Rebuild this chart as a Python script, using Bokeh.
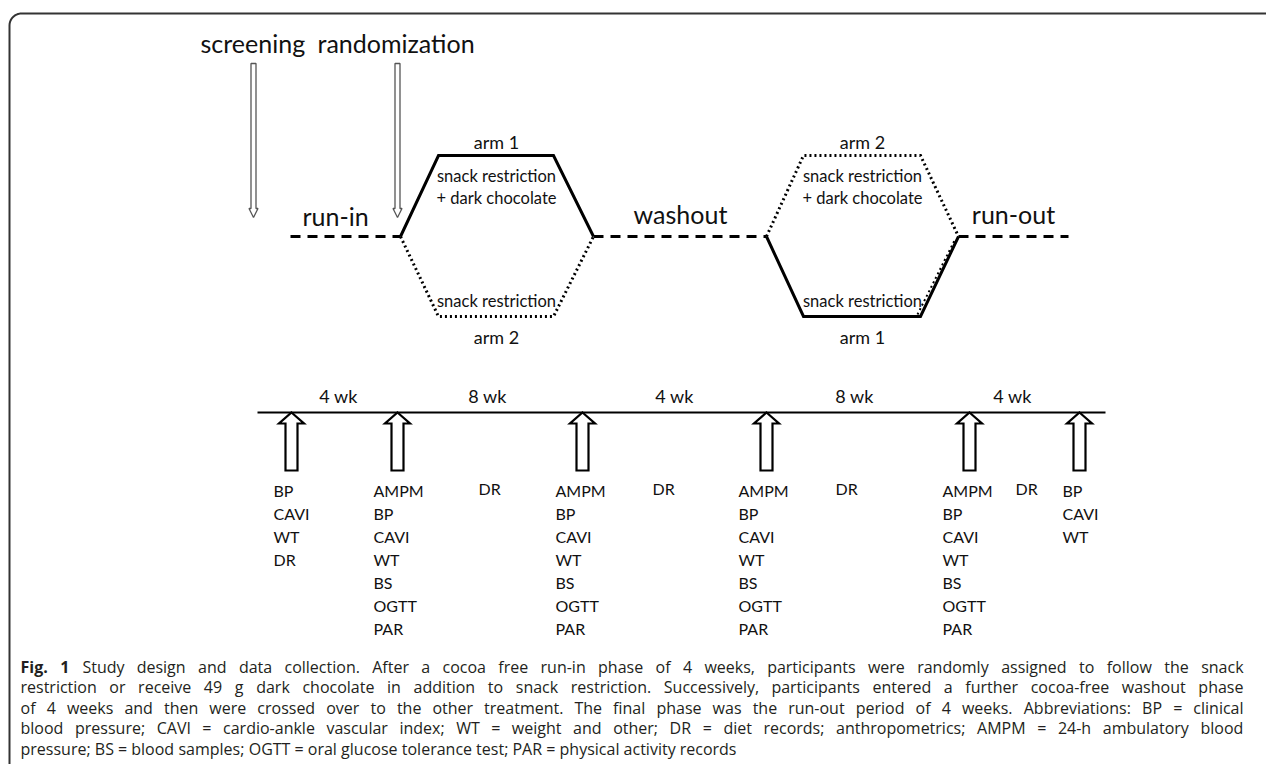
from bokeh.plotting import figure
from bokeh.models import Range1d
from bokeh.core.properties import value
from bokeh.embed import file_html
from bokeh.resources import INLINE
import numpy as np

# ---------------- data ----------------
top_labels = ["screening", "randomization"]
top_label_x = [200, 317]
top_arrow_x = [253, 397]

phases = ["run-in", "washout", "run-out"]
phase_x = [335, 680, 1013]
phase_dash_x0 = [290, 593, 958]
phase_dash_x1 = [400, 766, 1068]

arm_top_labels = ["arm 1", "arm 2"]
arm_bottom_labels = ["arm 2", "arm 1"]
arm_center_x = [496, 862]
hex_left = [400, 766]
hex_right = [593, 958]
hex_in_left = [438, 803]
hex_in_right = [553, 920]
top_styles = ["solid", "dotted"]
bottom_styles = ["dotted", "solid"]
treat_top = ["snack restriction", "+ dark chocolate"]
treat_bottom = "snack restriction"

durations = ["4 wk", "8 wk", "4 wk", "8 wk", "4 wk"]
duration_x = [338, 487, 674, 854, 1012]

visit_x = [291, 397, 582, 766, 969, 1079]
list_x = [273, 373, 555, 738, 942, 1062]
full_visit = ["AMPM", "BP", "CAVI", "WT", "BS", "OGTT", "PAR"]
visit_lists = [["BP", "CAVI", "WT", "DR"], full_visit, full_visit, full_visit, full_visit,
               ["BP", "CAVI", "WT"]]
dr_x = [478, 652, 835, 1015]

caption_bold = ["Fig.", "1"]
caption_lines = [
    "Study design and data collection. After a cocoa free run-in phase of 4 weeks, participants were randomly assigned to follow the snack",
    "restriction or receive 49 g dark chocolate in addition to snack restriction. Successively, participants entered a further cocoa-free washout phase",
    "of 4 weeks and then were crossed over to the other treatment. The final phase was the run-out period of 4 weeks. Abbreviations: BP = clinical",
    "blood pressure; CAVI = cardio-ankle vascular index; WT = weight and other; DR = diet records; anthropometrics; AMPM = 24-h ambulatory blood",
    "pressure; BS = blood samples; OGTT = oral glucose tolerance test; PAR = physical activity records",
]

# ---------------- layout constants ----------------
W, H = 1266, 764
X0, X1 = 0, W
PX_PER_UNIT = W / (X1 - X0)
FONT = value("Lato")
CAP_FONT = value("Open Sans")
CAP_SIZE = 16.0
INK = "#111111"
CAP_INK = "#231f20"

# approximate Open Sans advance widths (units per em = 2048) used to justify the caption
_ADV = {" ": 532, ".": 545, ",": 502, ";": 545, ":": 545, "-": 659, "=": 1171, "+": 1171,
        "A": 1296, "B": 1327, "C": 1292, "D": 1493, "E": 1139, "F": 1057, "G": 1491, "H": 1511,
        "I": 571, "J": 547, "K": 1257, "L": 1073, "M": 1849, "N": 1544, "O": 1595, "P": 1233,
        "Q": 1595, "R": 1266, "S": 1104, "T": 1122, "U": 1510, "V": 1198, "W": 1858, "X": 1169,
        "Y": 1133, "Z": 1125, "a": 1139, "b": 1255, "c": 975, "d": 1255, "e": 1149, "f": 694,
        "g": 1122, "h": 1257, "i": 518, "j": 518, "k": 1075, "l": 518, "m": 1905, "n": 1257,
        "o": 1237, "p": 1255, "q": 1255, "r": 836, "s": 977, "t": 723, "u": 1257, "v": 1026,
        "w": 1593, "x": 1073, "y": 1028, "z": 977}


def text_w(s, size, bold=False):
    units = sum(_ADV.get(ch, 1171) for ch in s)
    w = units / 2048 * size
    if bold:
        w *= 1.08
    return w / PX_PER_UNIT


p = figure(width=W, height=H, x_range=Range1d(X0, X1), y_range=Range1d(H, 0),
           output_backend="svg", toolbar_location=None, min_border=0,
           x_axis_location=None, y_axis_location=None, outline_line_color=None,
           background_fill_color="white", border_fill_color="white")
p.xgrid.visible = False
p.ygrid.visible = False

# frame (top + left edge with rounded corner)
r = 12
ang = np.linspace(np.pi, 1.5 * np.pi, 12)
frame_x = [9, 9] + list(9 + r + r * np.cos(ang)) + [X1 + 5]
frame_y = [H + 5, 13 + r] + list(13 + r + r * np.sin(ang)) + [13]
p.line(frame_x, frame_y, line_color="#333333", line_width=2)

# top labels and thin arrows
p.text(x=top_label_x, y=[42, 42], text=top_labels, text_font=FONT, text_font_size="25px",
       text_baseline="middle", text_align="left", text_color=INK)
for ax in top_arrow_x:
    sx = [ax - 2.5, ax + 2.5, ax + 2.5, ax + 4.5, ax, ax - 4.5, ax - 2.5, ax - 2.5]
    sy = [63, 63, 208, 208, 217, 208, 208, 63]
    p.patch(sx, sy, fill_color="white", line_color="#555555", line_width=1.3)

# phase dashed lines and labels
MID, TOP, BOT = 236, 155, 316
for x0, x1 in zip(phase_dash_x0, phase_dash_x1):
    p.line([x0, x1], [MID, MID], line_color="black", line_width=3, line_dash="10 7")
p.text(x=phase_x, y=[215, 213, 213], text=phases, text_font=FONT, text_font_size="25px",
       text_baseline="middle", text_align="center", text_color=INK)

# hexagons (treatment arms)
for i in range(2):
    L, R_, il, ir = hex_left[i], hex_right[i], hex_in_left[i], hex_in_right[i]
    for ys, style in ((TOP, top_styles[i]), (BOT, bottom_styles[i])):
        dash = "solid" if style == "solid" else "2 3"
        p.line([L, il, ir, R_], [MID, ys, ys, MID], line_color="black", line_width=3,
               line_dash=dash, line_join="miter")
    cx = arm_center_x[i]
    p.text(x=[cx, cx], y=[141, 336], text=[arm_top_labels[i], arm_bottom_labels[i]],
           text_font=FONT, text_font_size="18px", text_baseline="middle", text_align="center",
           text_color=INK)
    p.text(x=[cx, cx], y=[175, 197], text=treat_top, text_font=FONT, text_font_size="16.5px",
           text_baseline="middle", text_align="center", text_color=INK)
    p.text(x=[cx], y=[300], text=[treat_bottom], text_font=FONT, text_font_size="16.5px",
           text_baseline="middle", text_align="center", text_color=INK)
# dotted trace beside the lower-right solid edge of the second hexagon
p.line([hex_in_right[1] - 3, hex_right[1] - 3], [BOT - 2, MID + 2], line_color="black",
       line_width=2, line_dash="2 3")

# time line
TL_Y = 412
p.line([257, 1105], [TL_Y, TL_Y], line_color="black", line_width=2)
p.text(x=duration_x, y=[395] * len(durations), text=durations, text_font=FONT,
       text_font_size="18px", text_baseline="middle", text_align="center", text_color=INK)

# block arrows at visits
for vx in visit_x:
    bx = [vx, vx + 12.5, vx + 6, vx + 6, vx - 6, vx - 6, vx - 12.5]
    by = [TL_Y, 423, 423, 470, 470, 423, 423]
    p.patch(bx, by, fill_color="white", line_color="black", line_width=2.2, line_join="miter")

# measurement lists
LINE_H = 23
for lx, items in zip(list_x, visit_lists):
    ys = [490 + LINE_H * k for k in range(len(items))]
    p.text(x=[lx] * len(items), y=ys, text=items, text_font=FONT, text_font_size="16px",
           text_baseline="middle", text_align="left", text_color=INK)
p.text(x=dr_x, y=[488] * len(dr_x), text=["DR"] * len(dr_x), text_font=FONT,
       text_font_size="16px", text_baseline="middle", text_align="left", text_color=INK)

# caption (justified lines except the last)
CAP_Y0, CAP_DY = 666, 20.5
CAP_LEFT, CAP_RIGHT = 20, 1243
reg_x, reg_y, reg_t = [], [], []
bold_x, bold_y, bold_t = [], [], []
for k, line in enumerate(caption_lines):
    y = CAP_Y0 + CAP_DY * k
    words = line.split(" ")
    bold_words = caption_bold if k == 0 else []
    all_words = bold_words + words
    widths = [text_w(w, CAP_SIZE, bold=(j < len(bold_words))) for j, w in enumerate(all_words)]
    space = text_w(" ", CAP_SIZE)
    if k < len(caption_lines) - 1:
        gap = (CAP_RIGHT - CAP_LEFT - sum(widths)) / (len(all_words) - 1)
    else:
        gap = space
    x = CAP_LEFT
    for j, (w, wd) in enumerate(zip(all_words, widths)):
        if j < len(bold_words):
            bold_x.append(x); bold_y.append(y); bold_t.append(w)
        else:
            reg_x.append(x); reg_y.append(y); reg_t.append(w)
        x += wd + gap
p.text(x=bold_x, y=bold_y, text=bold_t, text_font=CAP_FONT, text_font_size=f"{CAP_SIZE}px",
       text_font_style="bold", text_baseline="middle", text_align="left", text_color=CAP_INK)
p.text(x=reg_x, y=reg_y, text=reg_t, text_font=CAP_FONT, text_font_size=f"{CAP_SIZE}px",
       text_baseline="middle", text_align="left", text_color=CAP_INK)

open("out.html", "w").write(file_html(p, INLINE))
